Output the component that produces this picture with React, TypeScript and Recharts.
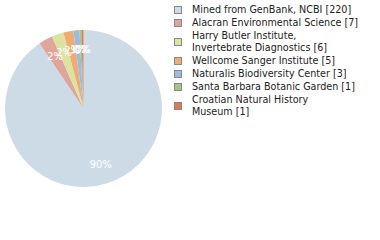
import React from "react";
import { PieChart, Pie, Cell } from "recharts";

const names = [
  "Mined from GenBank, NCBI [220]",
  "Alacran Environmental Science [7]",
  "Harry Butler Institute,\nInvertebrate Diagnostics [6]",
  "Wellcome Sanger Institute [5]",
  "Naturalis Biodiversity Center [3]",
  "Santa Barbara Botanic Garden [1]",
  "Croatian Natural History\nMuseum [1]",
];
const values = [220, 7, 6, 5, 3, 1, 1];
const colors = ["#cddbe7", "#dfa59d", "#dce39e", "#efac72", "#9dbbe0", "#9fc87d", "#df755a"];

const data = names.map((name, i) => ({ name, value: values[i] }));
const total = values.reduce((a, b) => a + b, 0);

const RAD = Math.PI / 180;

const renderLabel = (props: any) => {
  const { cx, cy, midAngle, outerRadius, value } = props;
  const r = outerRadius * 0.75;
  const x = cx + r * Math.cos(-midAngle * RAD);
  const y = cy + r * Math.sin(-midAngle * RAD);
  const pct = Math.floor((value / total) * 100);
  return (
    <text
      x={x}
      y={y}
      fill="#ffffff"
      fontSize={10}
      fontFamily="DejaVu Sans"
      textAnchor="middle"
      dominantBaseline="central"
    >
      {pct + "%"}
    </text>
  );
};

export default function App() {
  return (
    <div style={{ position: "absolute", left: 0, top: 0, width: 380, height: 240, background: "#fff" }}>
      <PieChart width={380} height={240} margin={{ top: 0, right: 0, bottom: 0, left: 0 }}>
        <Pie
          data={data}
          dataKey="value"
          nameKey="name"
          cx={83.5}
          cy={108.5}
          outerRadius={78.5}
          startAngle={90}
          endAngle={-270}
          stroke="none"
          label={renderLabel}
          labelLine={false}
          isAnimationActive={false}
        >
          {data.map((_, i) => (
            <Cell key={i} fill={colors[i]} />
          ))}
        </Pie>
      </PieChart>
      <div
        style={{
          position: "absolute",
          left: 174,
          top: 4,
          width: 206,
          fontFamily: "DejaVu Sans",
          fontSize: 9.6,
          color: "#222",
        }}
      >
        {data.map((d, i) => (
          <div
            key={i}
            style={{ display: "flex", alignItems: "center", marginBottom: 1, lineHeight: "12px" }}
          >
            <span
              style={{
                display: "inline-block",
                width: 6,
                height: 6,
                background: colors[i],
                border: "1px solid #8a8a8a",
                marginRight: 10,
                flexShrink: 0,
              }}
            />
            <span style={{ whiteSpace: "pre" }}>{d.name}</span>
          </div>
        ))}
      </div>
    </div>
  );
}
